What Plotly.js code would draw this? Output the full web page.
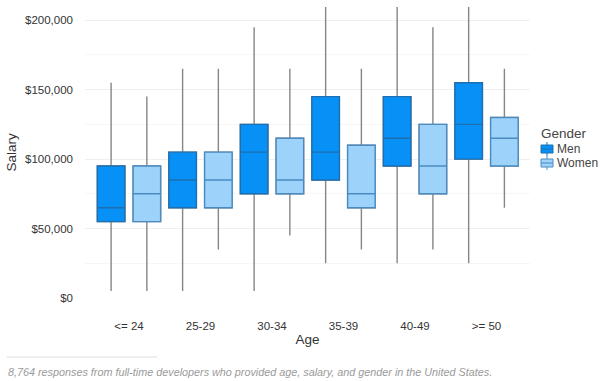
<!DOCTYPE html>
<html>
<head>
<meta charset="utf-8">
<script src="https://cdn.plot.ly/plotly-3.0.1.min.js"></script>
<style>
  html, body { margin: 0; padding: 0; background: #fff; }
  #chart { width: 600px; height: 381px; }
</style>
</head>
<body>
<div id="chart"></div>
<script>
// ---- Data (USD) ----
const categories = ["<= 24", "25-29", "30-34", "35-39", "40-49", ">= 50"];
const genders = ["Men", "Women"];

const menLower  = [5000, 5000, 5000, 25000, 25000, 25000];
const menQ1     = [55000, 65000, 75000, 85000, 95000, 100000];
const menMedian = [65000, 85000, 105000, 105000, 115000, 125000];
const menQ3     = [95000, 105000, 125000, 145000, 145000, 155000];
const menUpper  = [155000, 165000, 195000, 215000, 215000, 215000];

const womenLower  = [5000, 35000, 45000, 35000, 35000, 65000];
const womenQ1     = [55000, 65000, 75000, 65000, 75000, 95000];
const womenMedian = [75000, 85000, 85000, 75000, 95000, 115000];
const womenQ3     = [95000, 105000, 115000, 110000, 125000, 130000];
const womenUpper  = [145000, 165000, 165000, 165000, 195000, 165000];

const yTickVals  = [0, 50000, 100000, 150000, 200000];
const yTickText  = ["$0", "$50,000", "$100,000", "$150,000", "$200,000"];

// ---- Styles ----
const FONT = "Arial, 'Liberation Sans', sans-serif";
const whiskerColor = "#868686";
const fills = ["#0791f6", "#9dd2fb"];
const lines = ["#1e6fb0", "#4a8cc2"];

function whiskerTrace(name, group, lo, q1, med, q3, hi) {
  return {
    type: "box", name: name, x: categories,
    lowerfence: lo, q1: q1, median: med, q3: q3, upperfence: hi,
    offsetgroup: group, alignmentgroup: "a",
    fillcolor: "rgba(0,0,0,0)",
    line: { color: whiskerColor, width: 1.4 },
    whiskerwidth: 0, showlegend: false, hoverinfo: "skip"
  };
}
function boxTrace(name, group, q1, med, q3, fill, line) {
  return {
    type: "box", name: name, x: categories,
    lowerfence: q1, q1: q1, median: med, q3: q3, upperfence: q3,
    offsetgroup: group, alignmentgroup: "a",
    fillcolor: fill,
    line: { color: line, width: 1.4 },
    whiskerwidth: 0, showlegend: false
  };
}

const data = [
  whiskerTrace(genders[0], "m", menLower, menQ1, menMedian, menQ3, menUpper),
  whiskerTrace(genders[1], "w", womenLower, womenQ1, womenMedian, womenQ3, womenUpper),
  boxTrace(genders[0], "m", menQ1, menMedian, menQ3, fills[0], lines[0]),
  boxTrace(genders[1], "w", womenQ1, womenMedian, womenQ3, fills[1], lines[1])
];

// ---- Plot geometry (pixels) used to place legend / footnote in paper coords ----
const PL = 85, PR = 530, PT = 7, PB = 298;
const px = v => (v - PL) / (PR - PL);
const py = v => (PB - v) / (PB - PT);

// ---- Custom legend (box-style icons) ----
const shapes = [{
  type: "line", xref: "paper", yref: "paper",
  x0: px(7), x1: px(157), y0: py(357), y1: py(357),
  line: { color: "#dddddd", width: 1 }
}];
const annotations = [
  {
    xref: "paper", yref: "paper", x: px(539), y: py(133),
    xanchor: "left", yanchor: "middle", showarrow: false,
    text: "Gender", font: { family: FONT, size: 13.5, color: "#444" }
  },
  {
    xref: "paper", yref: "paper", x: px(6), y: py(372),
    xanchor: "left", yanchor: "middle", showarrow: false,
    text: "<i>8,764 responses from full-time developers who provided age, salary, and gender in the United States.</i>",
    font: { family: FONT, size: 10.8, color: "#9a9a9a" }
  }
];
genders.forEach((g, i) => {
  const cy = 149 + i * 14;
  annotations.push({
    xref: "paper", yref: "paper", x: px(555), y: py(cy),
    xanchor: "left", yanchor: "middle", showarrow: false,
    text: g, font: { family: FONT, size: 12, color: "#444" }
  });
  shapes.push({
    type: "line", xref: "paper", yref: "paper",
    x0: px(547), x1: px(547), y0: py(cy - 7), y1: py(cy + 7),
    line: { color: lines[i], width: 1 }
  });
  shapes.push({
    type: "rect", xref: "paper", yref: "paper",
    x0: px(541), x1: px(553), y0: py(cy - 4), y1: py(cy + 4),
    fillcolor: fills[i], line: { color: lines[i], width: 1 }
  });
  shapes.push({
    type: "line", xref: "paper", yref: "paper",
    x0: px(541), x1: px(553), y0: py(cy), y1: py(cy),
    line: { color: lines[i], width: 1 }
  });
});

const layout = {
  width: 600, height: 381,
  margin: { l: PL, r: 600 - PR, t: PT, b: 381 - PB, autoexpand: false },
  paper_bgcolor: "#fff", plot_bgcolor: "#fff",
  font: { family: FONT, size: 12, color: "#444" },
  showlegend: false,
  boxmode: "group", boxgap: 0, boxgroupgap: 0.23,
  xaxis: {
    type: "category",
    range: [-0.615, 5.608],
    showgrid: false, zeroline: false, showline: false, ticks: "",
    ticklabelstandoff: 19,
    tickfont: { family: FONT, size: 11.5, color: "#333" },
    title: { text: "Age", font: { family: FONT, size: 13.5, color: "#333" }, standoff: 4 }
  },
  yaxis: {
    range: [0, 209500],
    tickvals: yTickVals, ticktext: yTickText,
    showgrid: true, gridcolor: "#efefef", gridwidth: 1,
    minor: { dtick: 25000, showgrid: true, gridcolor: "#f6f6f6", gridwidth: 1 },
    zeroline: false, showline: false, ticks: "",
    ticklabelstandoff: 11,
    tickfont: { family: FONT, size: 11.5, color: "#333" },
    title: { text: "Salary", font: { family: FONT, size: 13.5, color: "#333" }, standoff: 5 }
  },
  shapes: shapes,
  annotations: annotations
};

Plotly.newPlot("chart", data, layout, { displayModeBar: false, staticPlot: true });
</script>
</body>
</html>
